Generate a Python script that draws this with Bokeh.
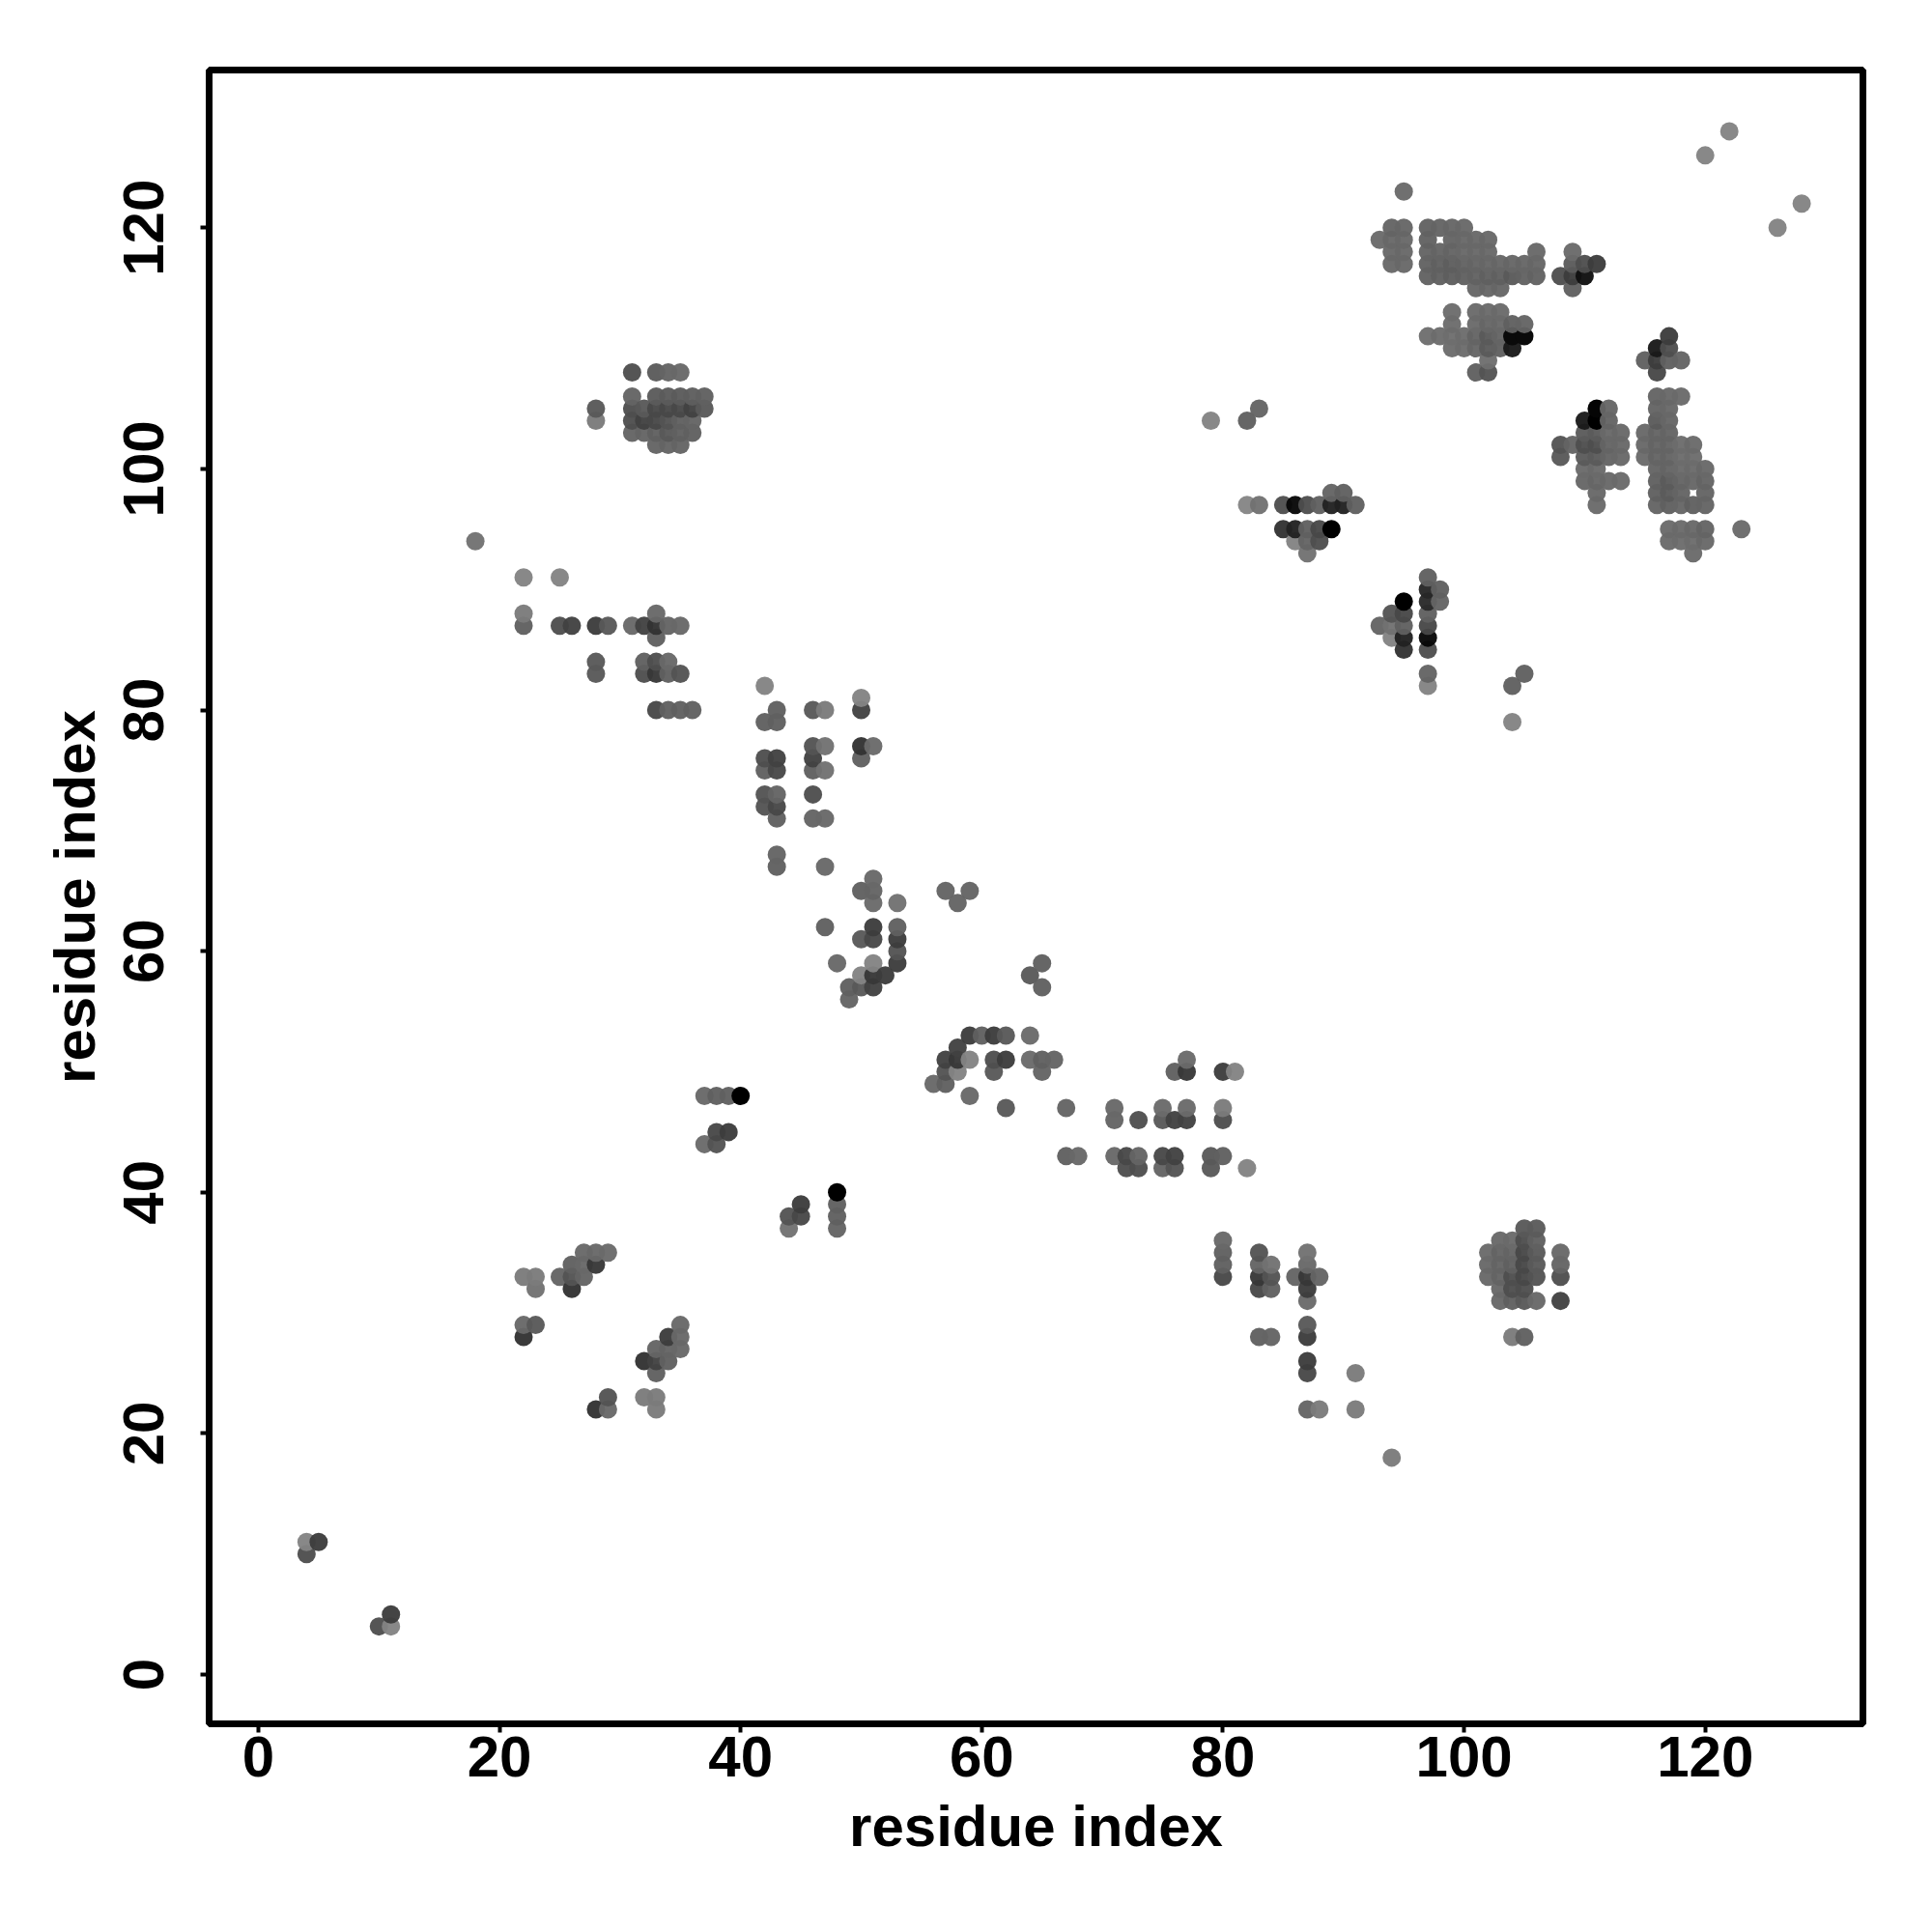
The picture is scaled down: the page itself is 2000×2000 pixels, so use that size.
from bokeh.plotting import figure
from bokeh.models import ColumnDataSource, FixedTicker, Range1d
from bokeh.embed import file_html
from bokeh.resources import INLINE

tick_values = [0, 20, 40, 60, 80, 100, 120]
axis_title = "residue index"

row_y = [4, 5, 10, 11, 18, 22, 23, 25, 26, 27, 28, 29, 31, 32, 33, 34, 35, 36, 37, 38, 39, 40,
         42, 43, 44, 45, 46, 47, 48, 49, 50, 51, 52, 53, 56, 57, 58, 59, 60, 61, 62, 64, 65, 66, 67, 68,
         71, 72, 73, 75, 76, 77, 79, 80, 81, 82, 83, 84, 85, 86, 87, 88, 89, 90, 91, 93, 94, 95, 97, 98,
         99, 100, 101, 102, 103, 104, 105, 106, 108, 109, 110, 111, 112, 113, 115, 116, 117, 118, 119,
         120, 122, 123, 126, 128]

row_x = [
    [10, 11], [11], [4], [4, 5], [94],
    [28, 29, 33, 87, 88, 91],
    [29, 32, 33],
    [33, 87, 91],
    [32, 33, 34, 87],
    [33, 34, 35],
    [22, 34, 35, 83, 84, 87, 104, 105],
    [22, 23, 35, 87],
    [87, 103, 104, 105, 106, 108],
    [23, 26, 83, 84, 87, 103, 104, 105],
    [22, 23, 25, 26, 27, 80, 83, 84, 86, 87, 88, 102, 103, 104, 105, 106, 108],
    [26, 27, 28, 80, 83, 84, 87, 102, 103, 104, 105, 106, 108],
    [27, 28, 29, 80, 83, 87, 102, 103, 104, 105, 106, 108],
    [80, 103, 104, 105, 106],
    [44, 48, 105, 106],
    [44, 45, 48],
    [45, 48],
    [48],
    [72, 73, 75, 76, 79, 82],
    [67, 68, 71, 72, 73, 75, 76, 79, 80],
    [37, 38],
    [38, 39],
    [71, 73, 75, 76, 77, 80],
    [62, 67, 71, 75, 77, 80],
    [37, 38, 39, 40, 59],
    [56, 57],
    [57, 58, 61, 65, 76, 77, 80, 81],
    [57, 58, 59, 61, 62, 64, 65, 66, 77],
    [58],
    [59, 60, 61, 62, 64],
    [49],
    [49, 50, 51, 65],
    [50, 51, 52, 64],
    [48, 51, 53, 65],
    [53],
    [50, 51, 53],
    [47, 51, 53],
    [51, 53, 58],
    [50, 51, 57, 59],
    [51],
    [43, 47],
    [43],
    [43, 46, 47],
    [42, 43],
    [42, 43, 46],
    [42, 43, 46, 47],
    [42, 43, 46, 50],
    [46, 47, 50, 51],
    [42, 43, 104],
    [33, 34, 35, 36, 43, 46, 47, 50],
    [50],
    [42, 97, 104],
    [28, 32, 33, 34, 35, 97, 105],
    [28, 32, 33, 34],
    [95, 97],
    [33, 94, 95, 97],
    [22, 25, 26, 28, 29, 31, 32, 33, 34, 35, 93, 94, 95, 97],
    [22, 33, 94, 95, 97],
    [95, 97, 98],
    [97, 98],
    [22, 25, 97],
    [87, 119],
    [18, 86, 87, 88, 117, 118, 119, 120],
    [85, 86, 87, 88, 89, 117, 118, 119, 120, 123],
    [82, 83, 85, 86, 87, 88, 89, 90, 91, 111, 116, 117, 118, 119, 120],
    [89, 90, 111, 116, 117, 118, 120],
    [110, 111, 112, 113, 116, 117, 118, 119, 120],
    [110, 111, 116, 117, 118, 119, 120],
    [108, 110, 111, 112, 113, 115, 116, 117, 118, 119],
    [33, 34, 35, 108, 109, 110, 111, 112, 113, 115, 116, 117, 118, 119],
    [31, 32, 33, 34, 35, 36, 110, 111, 112, 113, 115, 116, 117],
    [28, 31, 32, 33, 34, 35, 36, 79, 82, 110, 111, 112, 116, 117],
    [28, 31, 32, 33, 34, 35, 36, 37, 83, 111, 112, 116, 117],
    [31, 33, 34, 35, 36, 37, 116, 117, 118],
    [31, 33, 34, 35, 101, 102, 116],
    [102, 115, 116, 117, 118],
    [99, 100, 101, 102, 103, 104, 116, 117],
    [97, 98, 99, 100, 101, 102, 103, 104, 105, 117],
    [99, 101, 102, 103, 104, 105],
    [99, 101, 102, 103],
    [101, 102, 103, 109],
    [97, 98, 99, 100, 101, 102, 103, 104, 105, 106, 108, 109, 110],
    [94, 95, 97, 98, 99, 100, 101, 102, 103, 104, 105, 106, 109, 110, 111],
    [94, 95, 97, 98, 99, 100, 101, 102, 106, 109],
    [93, 94, 95, 97, 99, 100, 101, 102],
    [94, 95, 97, 98, 99, 100, 126],
    [128], [95], [120], [122],
]

row_grey = [
    [0x55, 0x88], [0x44], [0x55], [0x88, 0x44], [0x80],
    [0x3a, 0x6e, 0x80, 0x6a, 0x80, 0x80],
    [0x5a, 0x80, 0x80],
    [0x66, 0x4f, 0x80],
    [0x3a, 0x4a, 0x66, 0x44],
    [0x6a, 0x6a, 0x6e],
    [0x3a, 0x44, 0x6e, 0x66, 0x6a, 0x44, 0x80, 0x66],
    [0x6e, 0x5f, 0x6e, 0x5f],
    [0x70, 0x6e, 0x66, 0x5f, 0x6e, 0x4a],
    [0x77, 0x3a, 0x4f, 0x66, 0x44, 0x6e, 0x55, 0x55],
    [0x80, 0x80, 0x6a, 0x5a, 0x6a, 0x4f, 0x3f, 0x5a, 0x6a, 0x3f, 0x6a, 0x6e, 0x6a, 0x55, 0x4f, 0x5a, 0x55],
    [0x66, 0x6e, 0x3f, 0x66, 0x6a, 0x77, 0x6e, 0x6e, 0x6a, 0x66, 0x4f, 0x60, 0x6a],
    [0x6e, 0x6e, 0x70, 0x66, 0x5a, 0x77, 0x70, 0x6a, 0x6a, 0x4f, 0x60, 0x6e],
    [0x6e, 0x6e, 0x70, 0x55, 0x66],
    [0x77, 0x6a, 0x5f, 0x62],
    [0x5a, 0x4f, 0x66],
    [0x44, 0x66],
    [0x00],
    [0x55, 0x55, 0x6a, 0x5a, 0x5f, 0x88],
    [0x66, 0x6e, 0x6e, 0x4f, 0x6a, 0x4f, 0x4a, 0x5f, 0x66],
    [0x70, 0x5a],
    [0x4f, 0x44],
    [0x6a, 0x55, 0x5f, 0x4a, 0x4a, 0x55],
    [0x5f, 0x6a, 0x6e, 0x70, 0x70, 0x80],
    [0x6e, 0x66, 0x66, 0x00, 0x6e],
    [0x6e, 0x66],
    [0x5a, 0x88, 0x5f, 0x6a, 0x66, 0x3f, 0x44, 0x88],
    [0x4a, 0x3f, 0x88, 0x55, 0x44, 0x70, 0x66, 0x6a, 0x70],
    [0x4a],
    [0x44, 0x66, 0x44, 0x5f, 0x70],
    [0x6a],
    [0x66, 0x5f, 0x4a, 0x66],
    [0x88, 0x3f, 0x44, 0x60],
    [0x6e, 0x88, 0x44, 0x66],
    [0x5a],
    [0x5f, 0x4f, 0x44],
    [0x66, 0x44, 0x66],
    [0x70, 0x77, 0x6a],
    [0x66, 0x6a, 0x6a, 0x6a],
    [0x6e],
    [0x66, 0x6e],
    [0x6a],
    [0x66, 0x6a, 0x6e],
    [0x5a, 0x4f],
    [0x5a, 0x6a, 0x55],
    [0x66, 0x4f, 0x66, 0x77],
    [0x55, 0x4a, 0x4a, 0x66],
    [0x5a, 0x77, 0x3a, 0x70],
    [0x66, 0x66, 0x88],
    [0x4f, 0x66, 0x66, 0x66, 0x66, 0x5f, 0x80, 0x4a],
    [0x88],
    [0x88, 0x88, 0x66],
    [0x5f, 0x55, 0x3f, 0x66, 0x5a, 0x6a, 0x66],
    [0x5f, 0x66, 0x55, 0x6e],
    [0x3a, 0x55],
    [0x66, 0x88, 0x2a, 0x11],
    [0x66, 0x55, 0x4a, 0x44, 0x5f, 0x6e, 0x4a, 0x3a, 0x6a, 0x6e, 0x6a, 0x77, 0x66, 0x4f],
    [0x80, 0x6e, 0x5a, 0x4f, 0x66],
    [0x00, 0x33, 0x6a],
    [0x2f, 0x66],
    [0x88, 0x88, 0x66],
    [0x77, 0x70],
    [0x77, 0x88, 0x6a, 0x55, 0x70, 0x72, 0x72, 0x6e],
    [0x3a, 0x2a, 0x66, 0x4f, 0x00, 0x70, 0x70, 0x6e, 0x6a, 0x70],
    [0x8a, 0x77, 0x55, 0x11, 0x55, 0x66, 0x2a, 0x2a, 0x66, 0x70, 0x6a, 0x66, 0x6c, 0x66, 0x6a],
    [0x6a, 0x66, 0x6e, 0x66, 0x62, 0x6a, 0x6a],
    [0x6c, 0x6c, 0x6e, 0x70, 0x66, 0x62, 0x6a, 0x6c, 0x6a],
    [0x70, 0x70, 0x6a, 0x6a, 0x70, 0x70, 0x6e],
    [0x5f, 0x62, 0x62, 0x6a, 0x6e, 0x70, 0x6a, 0x6a, 0x72, 0x72],
    [0x6a, 0x6a, 0x6a, 0x5a, 0x6a, 0x55, 0x55, 0x6a, 0x6e, 0x6e, 0x6a, 0x6a, 0x72, 0x70],
    [0x6a, 0x6a, 0x66, 0x5f, 0x66, 0x66, 0x62, 0x62, 0x6e, 0x6e, 0x6e, 0x6a, 0x6a],
    [0x80, 0x55, 0x4a, 0x4f, 0x5a, 0x66, 0x6a, 0x88, 0x66, 0x22, 0x00, 0x6a, 0x62, 0x6c],
    [0x5f, 0x55, 0x5f, 0x4f, 0x4f, 0x4f, 0x4a, 0x5f, 0x6a, 0x05, 0x6c, 0x6a, 0x6e],
    [0x6a, 0x62, 0x62, 0x62, 0x64, 0x66, 0x6a, 0x6e, 0x70],
    [0x55, 0x62, 0x6a, 0x6e, 0x66, 0x5a, 0x4f],
    [0x74, 0x66, 0x44, 0x66, 0x6a],
    [0x72, 0x72, 0x6c, 0x62, 0x66, 0x22, 0x22, 0x55],
    [0x74, 0x72, 0x74, 0x72, 0x6a, 0x60, 0x6a, 0x0a, 0x0a, 0x44],
    [0x72, 0x70, 0x6c, 0x6e, 0x66, 0x6a],
    [0x72, 0x70, 0x70, 0x70],
    [0x6c, 0x6c, 0x6c, 0x66],
    [0x68, 0x66, 0x64, 0x66, 0x68, 0x66, 0x66, 0x60, 0x68, 0x68, 0x55, 0x44, 0x1a],
    [0x6e, 0x6e, 0x68, 0x66, 0x64, 0x68, 0x6a, 0x6c, 0x6c, 0x6c, 0x6c, 0x6c, 0x62, 0x55, 0x44],
    [0x6e, 0x6e, 0x6a, 0x6a, 0x6a, 0x6e, 0x6e, 0x6e, 0x6e, 0x70],
    [0x70, 0x6e, 0x6e, 0x68, 0x6a, 0x6e, 0x6e, 0x6e],
    [0x6a, 0x6c, 0x68, 0x6a, 0x6c, 0x6e, 0x88],
    [0x88], [0x70], [0x88], [0x88],
]

OPACITY = 0.96
contacts = sorted((x, y, g) for y, xs, gs in zip(row_y, row_x, row_grey) for x, g in zip(xs, gs))
xv = [c[0] for c in contacts]
yv = [c[1] for c in contacts]
alpha = [OPACITY if c[2] > 10.2 else 1.0 for c in contacts]
base = [int(round((c[2] - 255 * (1 - a)) / a)) for c, a in zip(contacts, alpha)]
colors = ["#%02x%02x%02x" % (b, b, b) for b in base]
source = ColumnDataSource(dict(x=xv, y=yv, color=colors, alpha=alpha))

p = figure(width=1984, height=1984, output_backend="svg", toolbar_location=None,
           x_range=Range1d(-4.08, 133.08), y_range=Range1d(-4.08, 133.08),
           min_border_left=216, min_border_right=56, min_border_top=72, min_border_bottom=200,
           background_fill_color="white", border_fill_color="white")
p.grid.visible = False
p.outline_line_color = "black"
p.outline_line_width = 7

p.scatter("x", "y", source=source, size=19, marker="circle", fill_color="color",
          fill_alpha="alpha", line_color=None)

for ax in (p.xaxis[0], p.yaxis[0]):
    ax.ticker = FixedTicker(ticks=tick_values)
    ax.axis_line_color = None
    ax.major_tick_line_color = "black"
    ax.major_tick_line_width = 4
    ax.major_tick_in = 0
    ax.major_tick_out = 9
    ax.minor_tick_line_color = None
    ax.major_label_text_font = "Liberation Sans"
    ax.major_label_text_font_style = "bold"
    ax.major_label_text_font_size = "60px"
    ax.major_label_text_color = "black"
    ax.axis_label = axis_title
    ax.axis_label_text_font = "Liberation Sans"
    ax.axis_label_text_font_style = "bold"
    ax.axis_label_text_font_size = "60px"
    ax.axis_label_text_color = "black"
p.yaxis[0].major_label_orientation = "vertical"
p.xaxis[0].major_label_standoff = 4
p.yaxis[0].major_label_standoff = 38
p.xaxis[0].axis_label_standoff = 15
p.yaxis[0].axis_label_standoff = 15

open("out.html", "w").write(file_html(p, INLINE))
